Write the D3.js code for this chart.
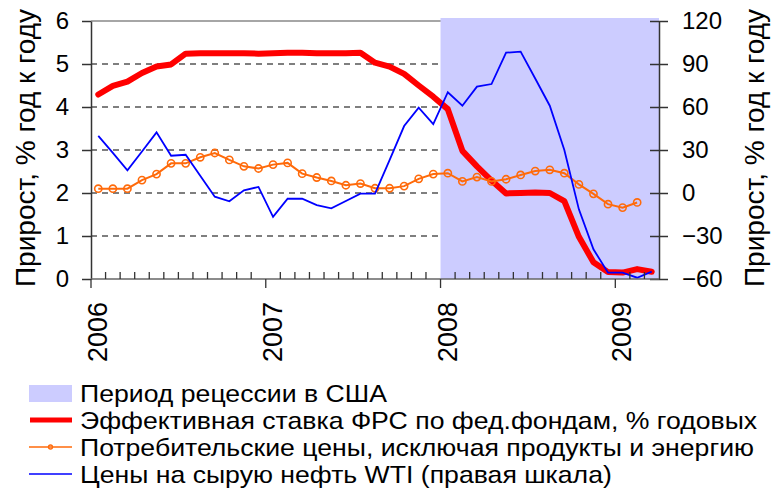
<!DOCTYPE html>
<html>
<head>
<meta charset="utf-8">
<script src="https://cdn.jsdelivr.net/npm/d3@7"></script>
<style>
    body { margin: 0; background: #fff; }
    svg { display: block; font-family: "Liberation Sans", Arial, sans-serif; }
</style>
</head>
<body>
<svg id="chart"></svg>
<script>
// monthly categories, Jan 2006 - Mar 2009
const months = d3.timeMonth.range(new Date(2006, 0, 1), new Date(2009, 3, 1));
const yearLabels = ['2006', '2007', '2008', '2009'];
const leftTicks = [0, 1, 2, 3, 4, 5, 6];
const rightTicks = [-60, -30, 0, 30, 60, 90, 120];
const recessionStart = new Date(2008, 0, 1);

// Effective fed funds rate, % (left axis)
const fedRate = [4.29, 4.49, 4.59, 4.79, 4.94, 4.99, 5.24, 5.25, 5.25, 5.25, 5.25, 5.24,
                 5.25, 5.26, 5.26, 5.25, 5.25, 5.25, 5.26, 5.03, 4.94, 4.77, 4.50, 4.24,
                 3.95, 2.98, 2.62, 2.29, 1.99, 2.00, 2.01, 2.00, 1.81, 0.98, 0.39, 0.16,
                 0.15, 0.23, 0.17];
// Core CPI, % y/y (left axis)
const coreCpi = [2.10, 2.10, 2.10, 2.30, 2.44, 2.69, 2.69, 2.83, 2.93, 2.77, 2.62, 2.57,
                 2.66, 2.70, 2.45, 2.36, 2.28, 2.18, 2.22, 2.11, 2.11, 2.16, 2.33, 2.44,
                 2.46, 2.27, 2.37, 2.27, 2.32, 2.42, 2.51, 2.54, 2.46, 2.20, 1.98, 1.74,
                 1.66, 1.78];
// WTI crude, % y/y (right axis)
const oilPrice = [39.8, 28.0, 15.8, 29.0, 42.3, 26.0, 26.7, 12.0, -2.6, -5.8, 1.9, 4.2,
                  -16.7, -4.0, -4.0, -8.4, -10.7, -5.6, -0.5, -0.5, 23.0, 46.7, 59.5, 48.1,
                  70.3, 60.9, 74.2, 76.0, 97.9, 98.6, 79.9, 60.9, 30.0, -11.4, -39.3, -55.6,
                  -55.6, -59.1, -54.9];

const legendLabels = [
    'Период рецессии в США',
    'Эффективная ставка ФРС по фед.фондам, % годовых',
    'Потребительские цены, исключая продукты и энергию',
    'Цены на сырую нефть WTI (правая шкала)'
];
const axisTitle = 'Прирост, % год к году';

const W = 771, H = 495;
const margin = { top: 21, bottom: 216, left: 91, right: 112 };
const width = W - margin.left - margin.right;
const height = H - margin.top - margin.bottom;

const svg = d3.select('#chart').attr('width', W).attr('height', H);
const chart = svg.append('g').attr('transform', `translate(${margin.left},${margin.top})`);

// scales (x is month index, points sit in the middle of each month)
const xScale = d3.scaleLinear().domain([0, months.length]).range([0, width]);
const yLeft = d3.scaleLinear().domain([0, 6]).range([height, 0]);
const yRight = d3.scaleLinear().domain([-60, 120]).range([height, 0]);
const xMid = i => xScale(i + 0.5);

// dashed gridlines
chart.append('g').selectAll('line')
    .data(leftTicks.filter(d => d > 0 && d < 6))
    .join('line')
    .attr('x1', 0).attr('x2', width)
    .attr('y1', d => yLeft(d)).attr('y2', d => yLeft(d))
    .attr('stroke', '#000').attr('stroke-width', 1.2).attr('stroke-dasharray', '6,5');

// top border
chart.append('line')
    .attr('x1', 0).attr('x2', width).attr('y1', 0).attr('y2', 0)
    .attr('stroke', '#888').attr('stroke-width', 1.5);

// recession shading
const recIdx = months.findIndex(m => +m === +recessionStart);
chart.append('rect')
    .attr('x', xScale(recIdx)).attr('y', -3)
    .attr('width', xScale(months.length) - xScale(recIdx))
    .attr('height', height + 3)
    .attr('fill', '#ccccff');

// lines
const lineLeft = d3.line().x((d, i) => xMid(i)).y(d => yLeft(d));
const lineRight = d3.line().x((d, i) => xMid(i)).y(d => yRight(d));

chart.append('path').datum(fedRate)
    .attr('d', lineLeft)
    .attr('fill', 'none').attr('stroke', '#ff0000').attr('stroke-width', 6)
    .attr('stroke-linejoin', 'round').attr('stroke-linecap', 'round');

chart.append('path').datum(coreCpi)
    .attr('d', lineLeft)
    .attr('fill', 'none').attr('stroke', '#ff6a0a').attr('stroke-width', 2);

chart.append('g').selectAll('circle')
    .data(coreCpi)
    .join('circle')
    .attr('cx', (d, i) => xMid(i)).attr('cy', d => yLeft(d))
    .attr('r', 3.6)
    .attr('fill', 'none').attr('stroke', '#ff6a0a').attr('stroke-width', 1.6);

chart.append('path').datum(oilPrice)
    .attr('d', lineRight)
    .attr('fill', 'none').attr('stroke', '#0000ff').attr('stroke-width', 1.8);

// left axis
const yAxisLeft = d3.axisLeft(yLeft).tickValues(leftTicks).tickFormat(d3.format('d'))
    .tickSize(9).tickSizeOuter(0).tickPadding(13);
const gLeft = chart.append('g').call(yAxisLeft);

// right axis
const yAxisRight = d3.axisRight(yRight).tickValues(rightTicks).tickFormat(d3.format('d'))
    .tickSize(9).tickSizeOuter(0).tickPadding(14);
const gRight = chart.append('g').attr('transform', `translate(${width},0)`).call(yAxisRight);
gRight.selectAll('.tick line').attr('x1', -9);

[gLeft, gRight].forEach(g => {
    g.select('.domain').attr('stroke', '#333').attr('stroke-width', 1.5);
    g.selectAll('.tick line').attr('stroke', '#333').attr('stroke-width', 1.5);
    g.selectAll('.tick text')
        .attr('font-family', '"Liberation Sans", Arial, sans-serif')
        .attr('font-size', 24).attr('fill', '#000');
});

// bottom axis: minor month ticks inside, year ticks outside
const monthIdx = d3.range(1, months.length).filter(i => months[i].getMonth() !== 0);
const yearIdx = d3.range(0, months.length).filter(i => months[i].getMonth() === 0);

const gBottom = chart.append('g').attr('transform', `translate(0,${height})`);
gBottom.append('line')
    .attr('x1', 0).attr('x2', width)
    .attr('stroke', '#666').attr('stroke-width', 1.5);
gBottom.selectAll('.minor')
    .data(monthIdx)
    .join('line')
    .attr('class', 'minor')
    .attr('x1', d => xScale(d)).attr('x2', d => xScale(d))
    .attr('y1', 0).attr('y2', -7)
    .attr('stroke', '#333').attr('stroke-width', 1.3);
gBottom.selectAll('.major')
    .data(yearIdx)
    .join('line')
    .attr('class', 'major')
    .attr('x1', d => xScale(d)).attr('x2', d => xScale(d))
    .attr('y1', 0).attr('y2', 9)
    .attr('stroke', '#333').attr('stroke-width', 1.3);
gBottom.selectAll('.year')
    .data(yearIdx)
    .join('text')
    .attr('class', 'year')
    .attr('transform', (d, i) => `translate(${xScale(d) + 16},23) rotate(-90)`)
    .attr('text-anchor', 'end')
    .attr('font-size', 27)
    .text((d, i) => yearLabels[i]);

// axis titles
svg.append('text')
    .attr('transform', `translate(35,148) rotate(-90)`)
    .attr('text-anchor', 'middle').attr('font-size', 28)
    .text(axisTitle);
svg.append('text')
    .attr('transform', `translate(764,148) rotate(-90)`)
    .attr('text-anchor', 'middle').attr('font-size', 28)
    .text(axisTitle);

// legend
const legend = svg.append('g').attr('transform', 'translate(29,393)');
const rowH = 27;
legendLabels.forEach((label, i) => {
    const row = legend.append('g').attr('transform', `translate(0,${i * rowH})`);
    if (i === 0) {
        row.append('rect').attr('x', 0).attr('y', -8).attr('width', 43).attr('height', 17).attr('fill', '#ccccff');
    } else if (i === 1) {
        row.append('line').attr('x1', 1).attr('x2', 43).attr('stroke', '#ff0000').attr('stroke-width', 5);
    } else if (i === 2) {
        row.append('line').attr('x1', 0).attr('x2', 43).attr('stroke', '#ff6a0a').attr('stroke-width', 1.6);
        row.append('circle').attr('cx', 21.5).attr('r', 2).attr('fill', 'none').attr('stroke', '#ff6a0a').attr('stroke-width', 1.3);
    } else {
        row.append('line').attr('x1', 0).attr('x2', 43).attr('stroke', '#0000ff').attr('stroke-width', 1.6);
    }
    // legend text in the original is drawn a bit wider than normal
    row.append('text')
        .attr('transform', 'translate(51,9) scale(1.11,1)')
        .attr('font-size', 24)
        .text(label);
});
</script>
</body>
</html>
